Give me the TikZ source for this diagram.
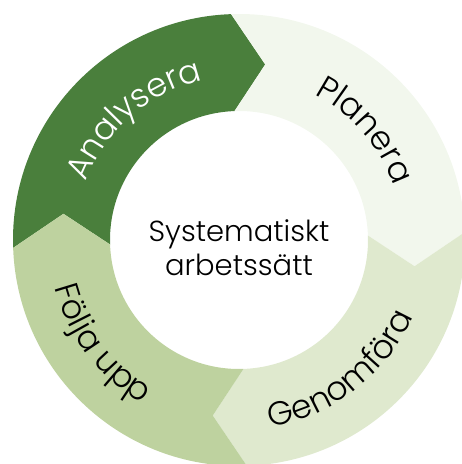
\documentclass[tikz,border=0pt]{standalone}
\usepackage{fontspec}
\setmainfont{Poppins Light}
\usetikzlibrary{decorations.text}

\definecolor{analysgreen}{RGB}{74,127,60}
\definecolor{planeragreen}{RGB}{242,247,237}
\definecolor{genomgreen}{RGB}{223,233,206}
\definecolor{foljgreen}{RGB}{190,210,159}

\newcommand{\ringfont}{\fontsize{33}{33}\selectfont}

\begin{document}
\begin{tikzpicture}[
                x=1pt, y=1pt,
                ringtext/.style={decorate, decoration={text along path, text align=center, text={#1}}}
            ]
            \useasboundingbox (-239, -224) rectangle (223, 240);

            % ring segments, clockwise, each one an arrow
            \foreach \s/\col in {182/analysgreen, 92/planeragreen, 2/genomgreen, -88/foljgreen} {
                \pgfmathsetmacro{\e}{\s - 90}
                \fill[\col] (\s:226) arc[start angle=\s, end angle=\e, radius=226]
                    -- ({\e - 10.5}:177.5) -- (\e:129)
                    arc[start angle=\e, end angle=\s, radius=129]
                    -- ({\s - 10.5}:177.5) -- cycle;
            }

            \node[align=center, font=\fontsize{29}{34}\selectfont] (centre) at (0, -8) {Systematiskt\\arbetssätt};

            \path[ringtext={|\ringfont\color{white}|Analysera}] (191:164) arc[start angle=191, end angle=71, radius=164];
            \path[ringtext={|\ringfont\color{black}|Planera}] (101:164) arc[start angle=101, end angle=-19, radius=164];
            \path[ringtext={|\ringfont\color{black}|Genomföra}] (-112:190) arc[start angle=-112, end angle=8, radius=190];
            \path[ringtext={|\ringfont\color{black}|Följa upp}] (157:190) arc[start angle=157, end angle=277, radius=190];
        \end{tikzpicture}
\end{document}
